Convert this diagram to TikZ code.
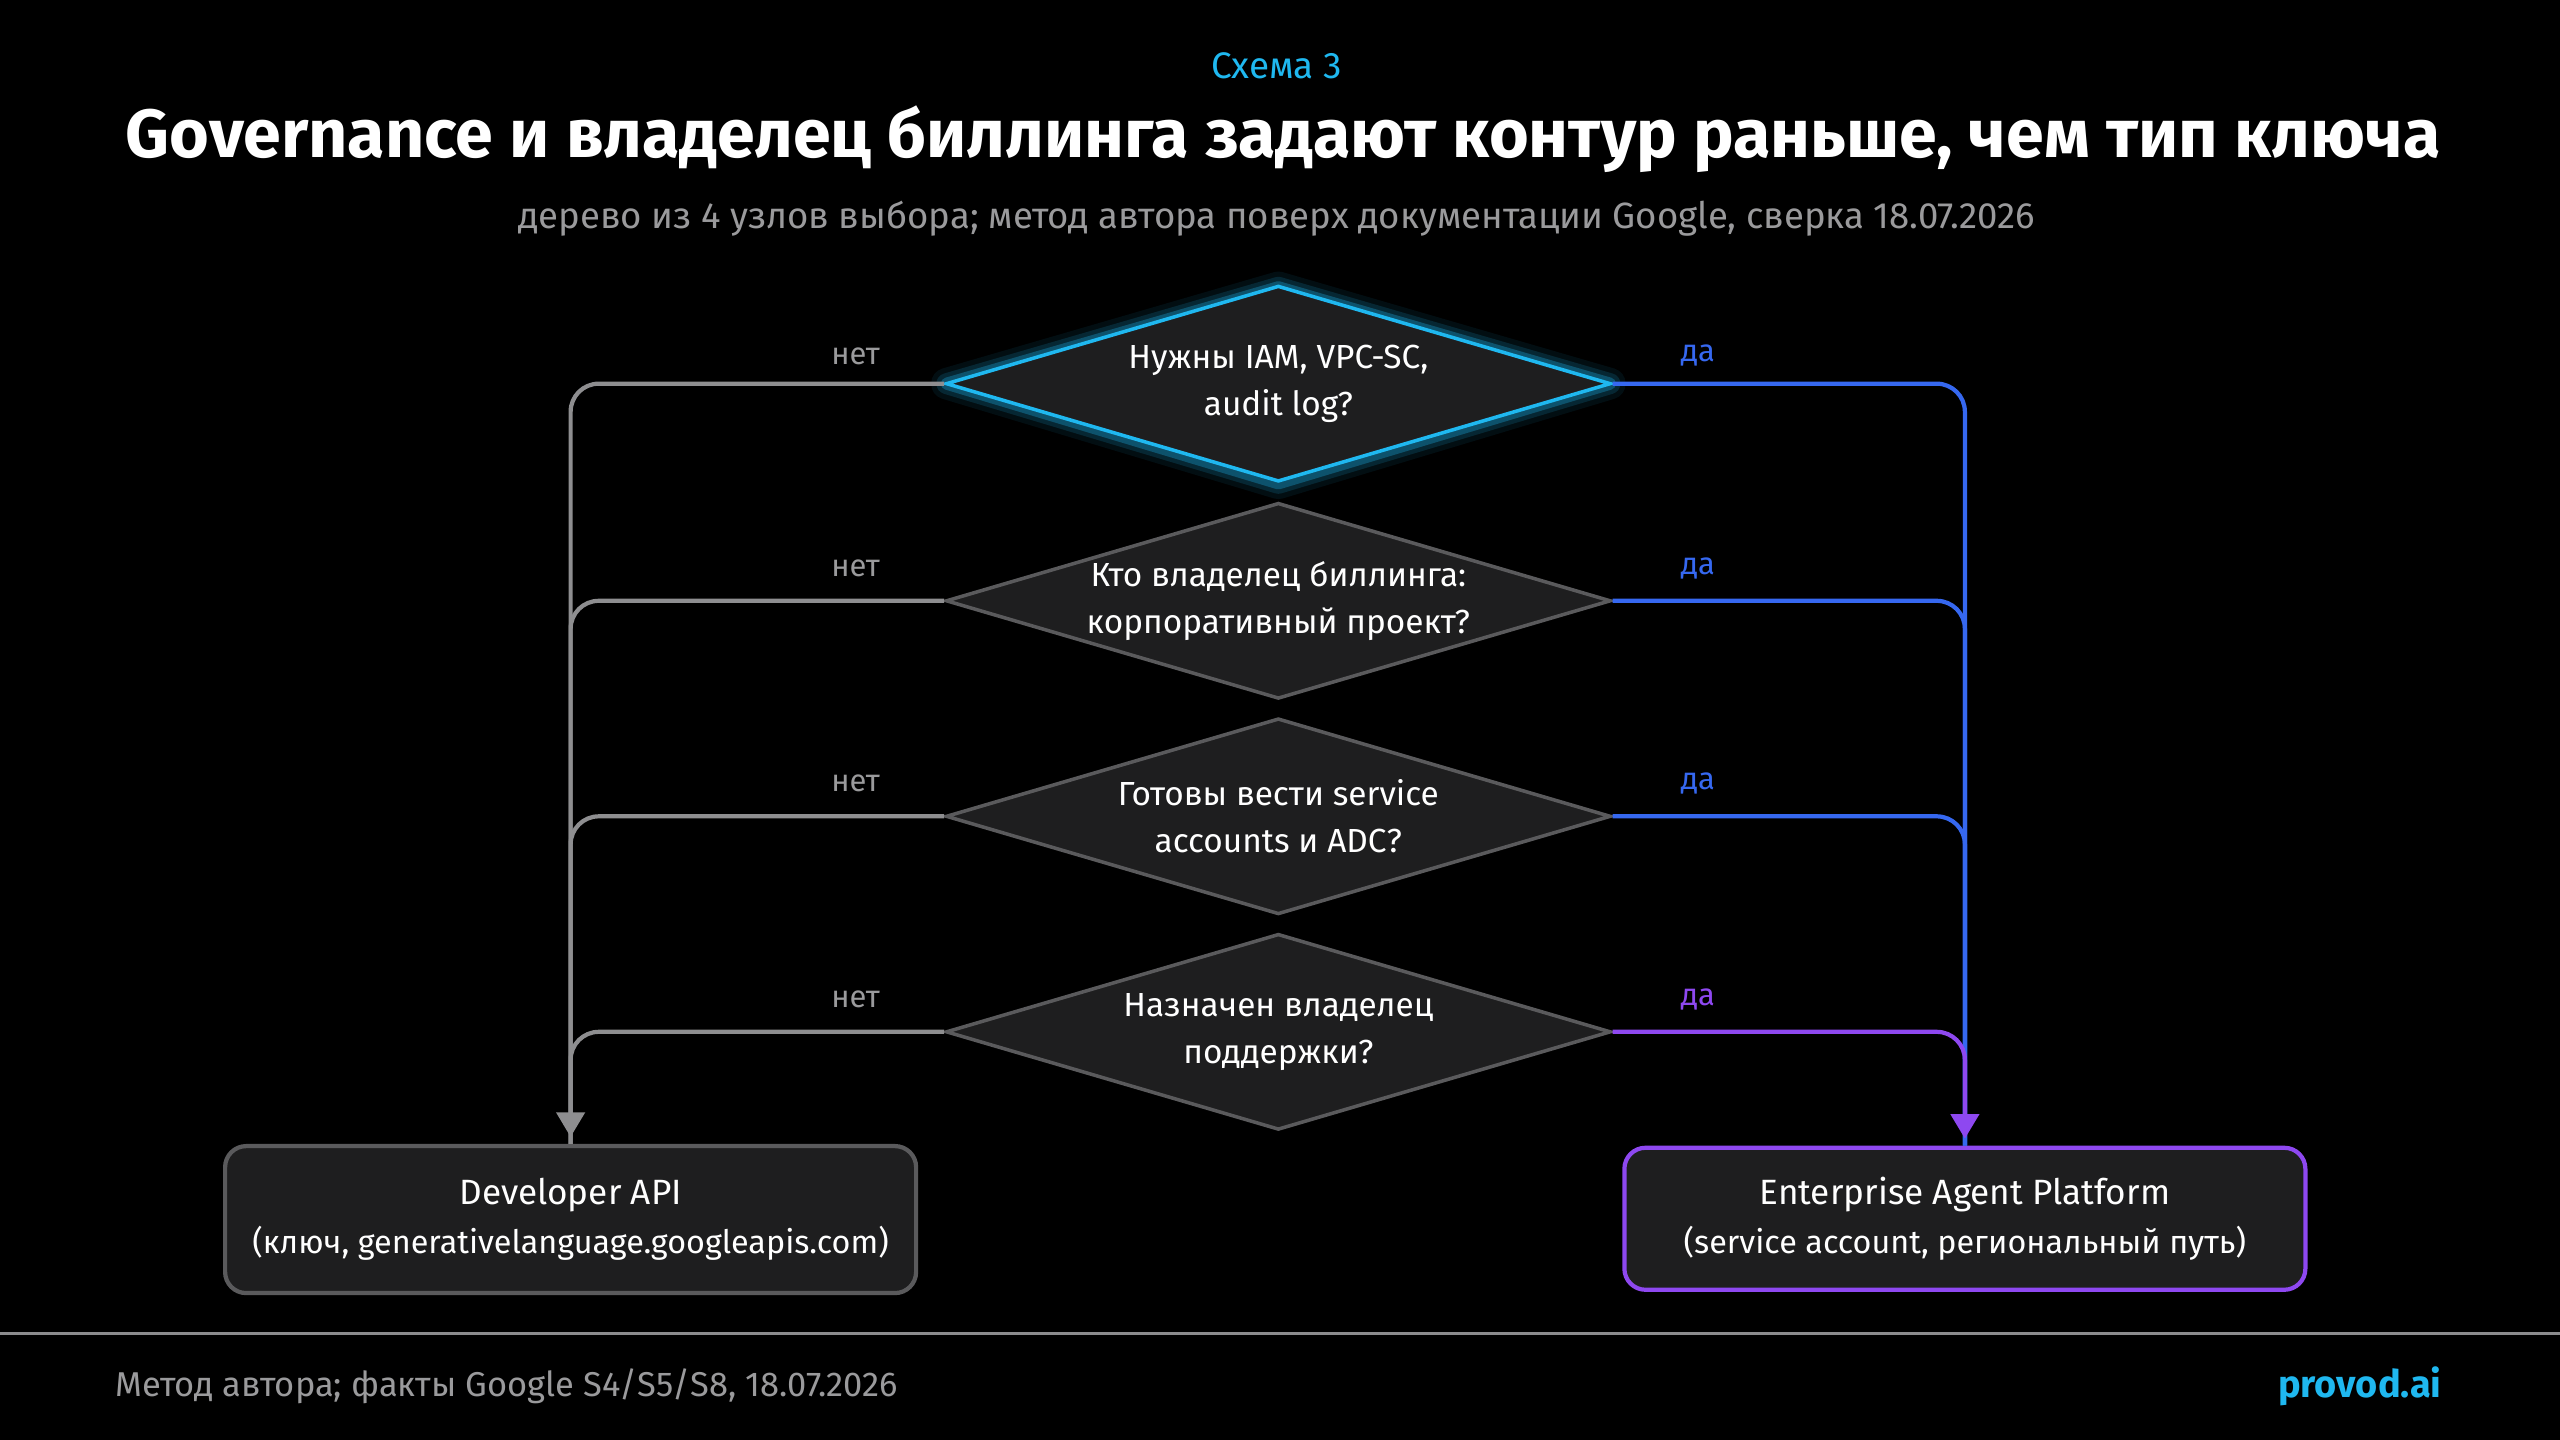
\documentclass[tikz,border=0pt]{standalone}
\usepackage{fontspec}
\setmainfont{Fira Sans}
\usetikzlibrary{shapes.geometric,arrows.meta}
\definecolor{bgblack}{HTML}{000000}
\definecolor{accent}{HTML}{1FB8F0}
\definecolor{dfill}{HTML}{1E1E1F}
\definecolor{dline}{HTML}{5A5A5C}
\definecolor{nolink}{HTML}{8E8E90}
\definecolor{yeslink}{HTML}{3668F0}
\definecolor{purp}{HTML}{8E48F0}
\definecolor{subgray}{HTML}{9A9A9C}
\tikzset{
  choice/.style={diamond, aspect=3.39, minimum width=6.65cm, minimum height=1.96cm,
    inner sep=0pt, fill=dfill, draw=dline, line width=1pt, align=center,
    text=white, font=\fontsize{9.5}{13.5}\selectfont},
  result/.style={rectangle, rounded corners=6pt, fill=dfill, line width=1.2pt,
    align=center, text=white, font=\fontsize{10}{15}\selectfont},
  nolbl/.style={text=subgray, font=\fontsize{8.8}{10}\selectfont},
  yeslbl/.style={text=yeslink, font=\fontsize{8.8}{10}\selectfont},
  nopath/.style={draw=nolink, line width=1.2pt, rounded corners=8pt},
  yespath/.style={draw=yeslink, line width=1.2pt, rounded corners=8pt},
}
\begin{document}
\begin{tikzpicture}[x=0.016327cm, y=-0.016327cm]
	\fill[bgblack] (0,0) rectangle (1568,882);
	\useasboundingbox (0,0) rectangle (1568,882);
	% headings
	\node (kicker) at (782,40) [text=accent, font=\fontsize{10.5}{12}\selectfont] {Схема 3};
	\node (title) at (786,85) [text=white, font=\bfseries\fontsize{19.4}{22}\selectfont] {Governance и владелец биллинга задают контур раньше, чем тип ключа};
	\node (subtitle) at (782,134) [text=subgray, font=\fontsize{10.4}{12}\selectfont] {дерево из 4 узлов выбора; метод автора поверх документации Google, сверка 18.07.2026};
	% glow on first choice
	\foreach \w/\o in {9/.08, 6/.15, 3.5/.3} {
		\draw[accent, opacity=\o, line width=\w pt, line join=round] (580,235) -- (783,176) -- (986,235) -- (783,296) -- cycle;
	}
	% choices
	\node[choice, draw=accent] (iam) at (783,235) {Нужны IAM, VPC-SC,\\audit log?};
	\node[choice] (billing) at (783,368) {Кто владелец биллинга:\\корпоративный проект?};
	\node[choice] (sa) at (783,500) {Готовы вести service\\accounts и ADC?};
	\node[choice] (support) at (783,632) {Назначен владелец\\поддержки?};
	% results
	\node[result, draw=dline, minimum width=6.91cm, minimum height=1.47cm] (devapi) at (349.5,747) {Developer API\\[-1pt]{\fontsize{9.2}{13}\selectfont (ключ, generativelanguage.googleapis.com)}};
	\node[result, draw=purp, minimum width=6.81cm, minimum height=1.42cm] (agent) at (1203.5,746.5) {Enterprise Agent Platform\\[-1pt]{\fontsize{9.2}{13}\selectfont (service account, региональный путь)}};
	% links
	\draw[nopath] (billing.west) -| (devapi.north);
	\draw[nopath] (sa.west) -| (devapi.north);
	\draw[nopath] (support.west) -| (devapi.north);
	\draw[nopath, -{Triangle[length=7pt, width=8pt]}] (iam.west) -| ([yshift=2pt]devapi.north);
	\draw[yespath] (billing.east) -| (agent.north);
	\draw[yespath] (sa.east) -| (agent.north);
	\draw[yespath] (iam.east) -| (agent.north);
	\draw[yespath, draw=purp, -{Triangle[length=7pt, width=8pt]}] (support.east) -| ([yshift=2pt]agent.north);
	% labels
	\foreach \y in {218,348,480,612} {
		\node[nolbl] at (524,\y) {нет};
	}
	\foreach \y in {218,348,480} {
		\node[yeslbl] at (1040,\y) {да};
	}
	\node[yeslbl, text=purp] at (1040,612) {да};
	% footer
	\draw[dline!70, line width=.8pt] (0,817) -- (1568,817);
	\node (foot) at (63,849) [anchor=west, text=subgray, font=\fontsize{9.8}{12}\selectfont] {Метод автора; факты Google S4/S5/S8, 18.07.2026};
	\node (brand) at (1503,849) [anchor=east, text=accent, font=\bfseries\fontsize{10.8}{12}\selectfont] {provod.ai};
\end{tikzpicture}
\end{document}
